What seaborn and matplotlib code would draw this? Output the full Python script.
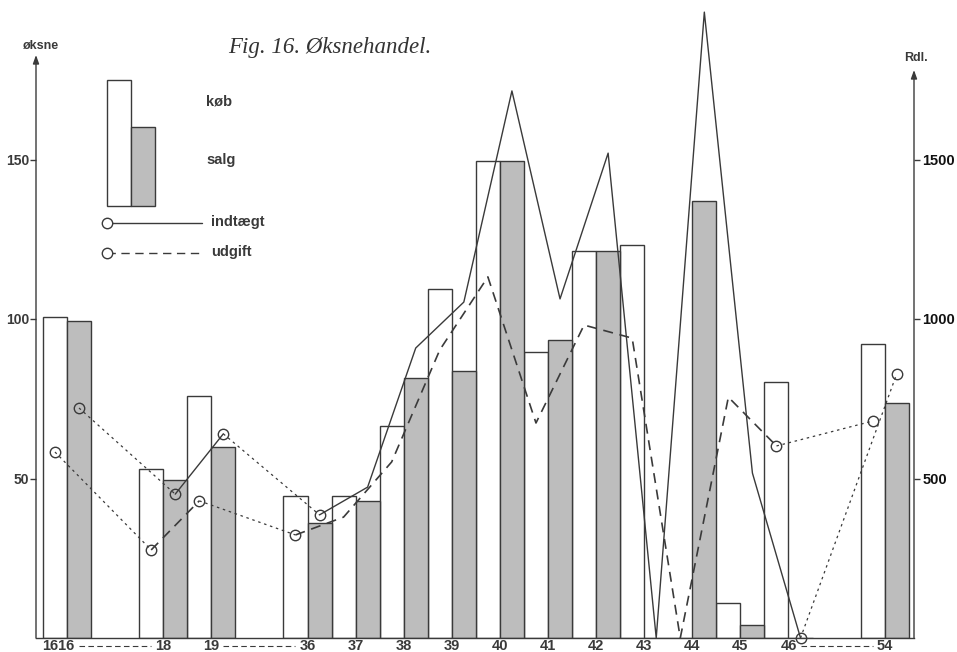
import numpy as np
import pandas as pd
import matplotlib
matplotlib.use("Agg")
import matplotlib.pyplot as plt
import matplotlib.transforms as mtransforms
import seaborn as sns
from matplotlib.patches import Rectangle
from matplotlib.lines import Line2D

# ---------------- data ----------------
years = ['1616', '18', '19', '36', '37', '38', '39', '40', '41', '42', '43', '44', '45', '46', '54']
slot_order = ['1616', ' ', '18', '19', '  ', '36', '37', '38', '39', '40', '41',
              '42', '43', '44', '45', '46', '   ', '54']
koeb = [100.6, 53, 75.9, 44.5, 44.5, 66.5, 109.4, 149.4, 89.7, 121.3, 123.2, 0, 11, 80.3, 92.2]
salg = [99.4, 49.5, 59.9, 36, 42.9, 81.5, 83.7, 149.4, 93.4, 121.3, 0, 137, 4.1, 0, 73.7]
indtaegt = [721, 451, 640, 386, 473, 909, 1053, 1715, 1063, 1520, 0, 1962, 517, 0, 828]
udgift = [583, 276, 430, 323, 379, 552, 903, 1132, 674, 981, 940, 0, 755, 602, 680]
consecutive = [['18', '19'], ['36', '37', '38', '39', '40', '41', '42', '43', '44', '45', '46']]
gaps = [['1616', '18'], ['19', '36'], ['46', '54']]
left_ticks = [50, 100, 150]
right_ticks = [500, 1000, 1500]

# ---------------- style ----------------
sns.set_style("white")
plt.rcParams['font.family'] = ['Liberation Sans', 'DejaVu Sans']
INK = '#3a3a3a'
SHADE = '#bdbdbd'

W, H = 957, 652
fig = plt.figure(figsize=(W / 100, H / 100), dpi=100)
fig.patch.set_facecolor('white')

ax_l, ax_r, ax_b, ax_t = 36, 914, 638, 8
ax = fig.add_axes([ax_l / W, (H - ax_b) / H, (ax_r - ax_l) / W, (ax_b - ax_t) / H])

def px(x, y):
    return (x / W, 1 - y / H)

# ---------------- bars ----------------
df = pd.DataFrame({'year': years * 2,
                   'type': ['køb'] * len(years) + ['salg'] * len(years),
                   'value': koeb + salg})
sns.barplot(data=df, x='year', y='value', hue='type', order=slot_order,
            hue_order=['køb', 'salg'], palette={'køb': 'white', 'salg': SHADE},
            saturation=1, width=1.0, gap=0, edgecolor=INK, linewidth=1.0,
            legend=False, ax=ax, err_kws={'linewidth': 0})

slot_w = 48.1
x0 = 67
xlim = ((ax_l - x0) / slot_w, (ax_r - x0) / slot_w)
ax.set_xlim(*xlim)
ytop = (ax_b - ax_t) / 3.19
ax.set_ylim(0, ytop)

pos = {y: slot_order.index(y) for y in years}

# ---------------- lines (Rdl.) ----------------
ax2 = ax.twinx()
ax2.set_ylim(0, ytop * 10)
ax2.set_xlim(*xlim)

inc = dict(zip(years, indtaegt))
exp = dict(zip(years, udgift))

for seg in consecutive:
    d_inc = pd.DataFrame({'x': [pos[y] + 0.25 for y in seg], 'v': [inc[y] for y in seg]})
    d_exp = pd.DataFrame({'x': [pos[y] - 0.25 for y in seg], 'v': [exp[y] for y in seg]})
    sns.lineplot(data=d_inc, x='x', y='v', ax=ax2, color=INK, linewidth=1.0,
                 sort=False, estimator=None)
    sns.lineplot(data=d_exp, x='x', y='v', ax=ax2, color=INK, linewidth=1.2,
                 sort=False, estimator=None, linestyle=(0, (6, 4)))

for seg in gaps:
    d_inc = pd.DataFrame({'x': [pos[y] + 0.25 for y in seg], 'v': [inc[y] for y in seg]})
    d_exp = pd.DataFrame({'x': [pos[y] - 0.25 for y in seg], 'v': [exp[y] for y in seg]})
    for d in (d_inc, d_exp):
        sns.lineplot(data=d, x='x', y='v', ax=ax2, color=INK, linewidth=0.9,
                     sort=False, estimator=None, linestyle=(0, (2, 3)))
        ax2.plot(d['x'], d['v'], linestyle='none', marker='o', markersize=7.5,
                 markerfacecolor='none', markeredgecolor=INK, markeredgewidth=1.0,
                 clip_on=False)

ax2.set_xlabel('')
ax2.set_ylabel('')
ax.set_xlabel('')
ax.set_ylabel('')

# ---------------- axes cosmetics ----------------
for a in (ax, ax2):
    for s in ('top', 'left', 'right'):
        a.spines[s].set_visible(False)
ax2.spines['bottom'].set_visible(False)
ax.spines['bottom'].set_color(INK)
ax.spines['bottom'].set_linewidth(1.0)

ax.set_yticks(left_ticks)
ax.set_yticklabels([str(t) for t in left_ticks], fontsize=10, fontweight='bold', color=INK)
ax.tick_params(axis='y', direction='out', length=4, width=1, color=INK, pad=1, left=True)
ax2.set_yticks(right_ticks)
ax2.set_yticklabels([str(t) for t in right_ticks], fontsize=10.5, fontweight='bold', color='#111')
ax2.tick_params(axis='y', direction='out', length=4, width=1, color=INK, pad=2, right=True)

ax.set_xticks([pos[y] for y in years])
ax.set_xticklabels(years, fontsize=10.5, fontweight='bold', color=INK)
ax.tick_params(axis='x', length=0, pad=1)
# the first (long) year label sits a little to the left in the original
first = ax.get_xticklabels()[0]
first.set_transform(first.get_transform() +
                    mtransforms.ScaledTranslation(-0.09, 0, fig.dpi_scale_trans))

# axis arrows
frac_l = (ax_b - 55) / (ax_b - ax_t)
frac_r = (ax_b - 70) / (ax_b - ax_t)
arrow = dict(arrowstyle='-|>,head_length=0.5,head_width=0.18', lw=1.0, color=INK,
             shrinkA=0, shrinkB=0)
ax.annotate('', xy=(0, frac_l), xytext=(0, 0), xycoords='axes fraction',
            arrowprops=arrow, annotation_clip=False)
ax.annotate('', xy=(1, frac_r), xytext=(1, 0), xycoords='axes fraction',
            arrowprops=arrow, annotation_clip=False)

# dashed connectors between x labels (year gaps)
tr = ax.get_xaxis_transform()
y_lab = -(646 - ax_b) / (ax_b - ax_t)
for a_, b_ in gaps:
    start = pos[a_] + (0.25 if len(a_) == 4 else 0.25)
    end = pos[b_] - 0.25
    ax.plot([start, end], [y_lab, y_lab], transform=tr, color=INK, lw=0.8,
            linestyle=(0, (5, 3)), clip_on=False)

# axis titles and figure title
fig.text(*px(41, 46), 'øksne', ha='center', va='center', fontsize=9,
         fontweight='bold', color=INK)
fig.text(*px(916, 58), 'Rdl.', ha='center', va='center', fontsize=9,
         fontweight='bold', color=INK)
fig.text(*px(330, 47), 'Fig. 16. Øksnehandel.', ha='center', va='center',
         fontsize=16.5, family=['Liberation Serif', 'DejaVu Serif'], style='italic', color='#333')

# ---------------- legend ----------------
def rect(x1, y1, x2, y2, fc):
    fig.add_artist(Rectangle(px(x1, y2), (x2 - x1) / W, (y2 - y1) / H,
                             transform=fig.transFigure, facecolor=fc,
                             edgecolor=INK, linewidth=1.0))

rect(107, 80, 131, 206, 'white')
rect(131, 127, 155, 206, SHADE)
fig.text(*px(206, 101), 'køb', ha='left', va='center', fontsize=10.5, fontweight='bold', color=INK)
fig.text(*px(206, 160), 'salg', ha='left', va='center', fontsize=10.5, fontweight='bold', color=INK)

for yy, ls, lab in ((223, '-', 'indtægt'), (253, (0, (6, 4)), 'udgift')):
    fig.add_artist(Line2D([107 / W, 202 / W], [1 - yy / H, 1 - yy / H],
                          transform=fig.transFigure, color=INK, lw=1.0, linestyle=ls))
    fig.add_artist(Line2D([107 / W], [1 - yy / H], transform=fig.transFigure,
                          marker='o', markersize=7.5, markerfacecolor='white',
                          markeredgecolor=INK, linestyle='none'))
    fig.text(*px(211, yy - 1), lab, ha='left', va='center', fontsize=10.5,
             fontweight='bold', color=INK)

fig.savefig('out.png', dpi=100, facecolor='white')
